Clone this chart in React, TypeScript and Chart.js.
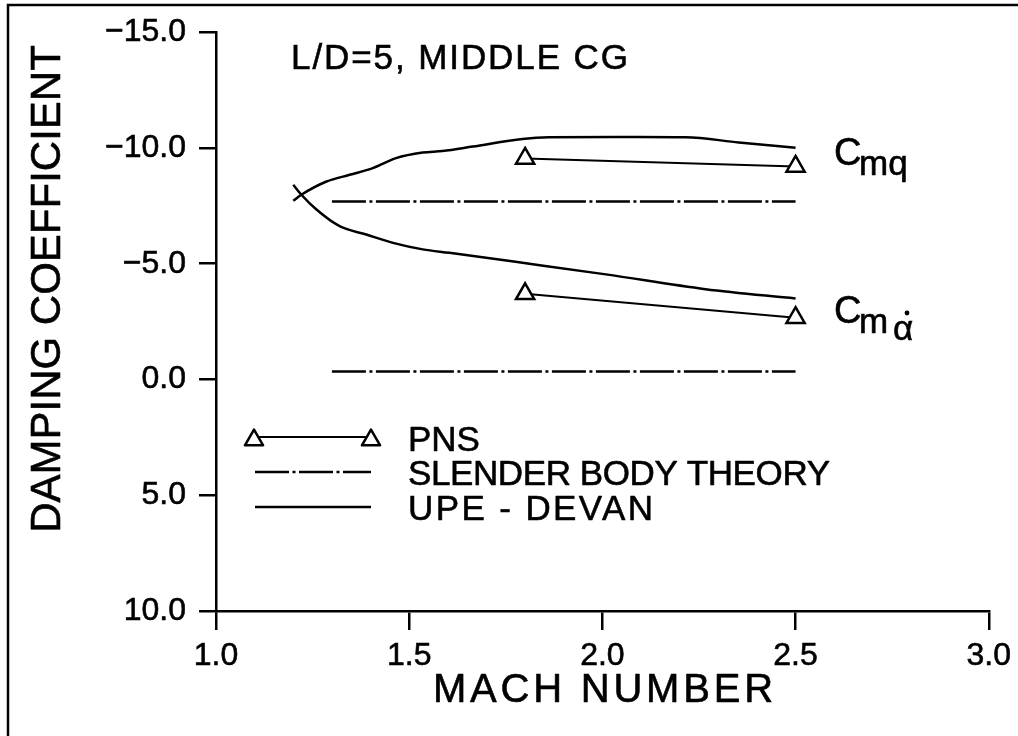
import React, { useEffect, useRef } from 'react';
import { Chart, registerables } from 'chart.js';

Chart.register(...registerables);

// ---- data ----
const xTicks = [1.0, 1.5, 2.0, 2.5, 3.0];
const yTicks = [-15, -10, -5, 0, 5, 10];

const machUpeCmq = [1.2, 1.221, 1.286, 1.346, 1.406, 1.466, 1.535, 1.586, 1.664, 1.793, 1.862, 2.095, 2.215, 2.353, 2.5];
const upeCmq = [-7.72, -7.98, -8.55, -8.84, -9.13, -9.56, -9.8, -9.87, -10.06, -10.39, -10.46, -10.47, -10.46, -10.24, -10.01];

const machUpeCma = [1.2, 1.221, 1.26, 1.32, 1.389, 1.458, 1.535, 1.604, 1.793, 2.009, 2.267, 2.5];
const upeCma = [-8.41, -7.98, -7.34, -6.62, -6.26, -5.9, -5.62, -5.47, -5.04, -4.54, -3.9, -3.5];

const machPns = [1.8, 2.5];
const pnsCmq = [-9.55, -9.2];
const pnsCma = [-3.7, -2.67];

const machSbt = [1.3, 2.5];
const sbtCmq = [-7.69, -7.69];
const sbtCma = [-0.35, -0.35];

const titleText = 'L/D=5, MIDDLE CG';
const xTitle = 'MACH NUMBER';
const yTitle = 'DAMPING COEFFICIENT';
const legendLabels = ['PNS', 'SLENDER BODY THEORY', 'UPE - DEVAN'];

const FONT = '"Liberation Sans", Arial, sans-serif';
const DASH = [34, 3.5, 3, 3.5];
const TEXT_STROKE = 0.6;

const pts = (xs: number[], ys: number[]) => xs.map((x, i) => ({ x, y: ys[i] }));

function txt(ctx: CanvasRenderingContext2D, text: string, x: number, y: number, target?: number) {
  const anyCtx = ctx as any;
  anyCtx.letterSpacing = '0px';
  if (target) {
    const natural = ctx.measureText(text).width;
    const n = text.length;
    const sp = (target - natural) / (n - 1);
    anyCtx.letterSpacing = `${sp.toFixed(2)}px`;
  }
  ctx.fillText(text, x, y);
  ctx.strokeText(text, x, y);
  anyCtx.letterSpacing = '0px';
}

function triangle(ctx: CanvasRenderingContext2D, x: number, y: number, r: number) {
  ctx.beginPath();
  for (let k = 0; k < 3; k++) {
    const a = (k * 2 * Math.PI) / 3;
    const px = x + Math.sin(a) * r;
    const py = y - Math.cos(a) * r;
    if (k === 0) ctx.moveTo(px, py);
    else ctx.lineTo(px, py);
  }
  ctx.closePath();
  ctx.fillStyle = '#fff';
  ctx.fill();
  ctx.stroke();
}

const annotations = {
  id: 'annotations',
  afterDraw(chart: any) {
    const ctx: CanvasRenderingContext2D = chart.ctx;
    ctx.save();
    ctx.strokeStyle = '#000';
    ctx.fillStyle = '#000';
    ctx.setLineDash([]);

    // outer frame
    ctx.lineWidth = 2.5;
    ctx.beginPath();
    ctx.moveTo(8, 736);
    ctx.lineTo(8, 5);
    ctx.lineTo(1018, 5);
    ctx.stroke();

    ctx.textBaseline = 'alphabetic';
    ctx.textAlign = 'left';
    ctx.lineWidth = TEXT_STROKE;
    ctx.lineJoin = 'round';

    // title
    ctx.font = `35px ${FONT}`;
    txt(ctx, titleText, 291, 69, 337);

    // x title
    ctx.font = `40px ${FONT}`;
    txt(ctx, xTitle, 433, 702, 340);

    // y title
    ctx.save();
    ctx.translate(60, 289);
    ctx.rotate(-Math.PI / 2);
    ctx.textAlign = 'center';
    ctx.font = `42px ${FONT}`;
    txt(ctx, yTitle, 0, 0);
    ctx.restore();

    // curve labels
    ctx.font = `38px ${FONT}`;
    txt(ctx, 'C', 834, 165);
    ctx.font = `35px ${FONT}`;
    txt(ctx, 'mq', 859, 175);

    ctx.font = `38px ${FONT}`;
    txt(ctx, 'C', 834, 323);
    ctx.font = `35px ${FONT}`;
    txt(ctx, 'm', 859, 333);
    txt(ctx, '\u03B1', 893, 340);
    ctx.beginPath();
    ctx.arc(907, 313, 2.4, 0, Math.PI * 2);
    ctx.fill();

    // legend
    ctx.lineWidth = 2;
    ctx.beginPath();
    ctx.moveTo(254, 437);
    ctx.lineTo(371, 437);
    ctx.stroke();
    ctx.lineWidth = 2.5;
    triangle(ctx, 254, 440, 10.5);
    triangle(ctx, 371, 440, 10.5);

    ctx.lineWidth = 2.5;
    ctx.setLineDash(DASH);
    ctx.beginPath();
    ctx.moveTo(255, 472);
    ctx.lineTo(371, 472);
    ctx.stroke();
    ctx.setLineDash([]);

    ctx.beginPath();
    ctx.moveTo(255, 507);
    ctx.lineTo(371, 507);
    ctx.stroke();

    ctx.fillStyle = '#000';
    ctx.lineWidth = TEXT_STROKE;
    ctx.font = `35px ${FONT}`;
    txt(ctx, legendLabels[0], 408, 451);
    txt(ctx, legendLabels[1], 408, 485, 422);
    txt(ctx, legendLabels[2], 408, 520, 245);

    ctx.restore();
  },
};

export default function App() {
  const ref = useRef<HTMLCanvasElement>(null);

  useEffect(() => {
    if (!ref.current) return;
    const chart = new Chart(ref.current, {
      type: 'line',
      data: {
        datasets: [
          {
            label: 'UPE Cmq',
            data: pts(machUpeCmq, upeCmq),
            borderColor: '#000',
            borderWidth: 2.5,
            pointRadius: 0,
            cubicInterpolationMode: 'monotone',
            fill: false,
          },
          {
            label: 'UPE Cma',
            data: pts(machUpeCma, upeCma),
            borderColor: '#000',
            borderWidth: 2.5,
            pointRadius: 0,
            cubicInterpolationMode: 'monotone',
            fill: false,
          },
          {
            label: 'SBT Cmq',
            data: pts(machSbt, sbtCmq),
            borderColor: '#000',
            borderWidth: 2.5,
            borderDash: DASH,
            pointRadius: 0,
            fill: false,
          },
          {
            label: 'SBT Cma',
            data: pts(machSbt, sbtCma),
            borderColor: '#000',
            borderWidth: 2.5,
            borderDash: DASH,
            pointRadius: 0,
            fill: false,
          },
          {
            label: 'PNS Cmq',
            data: pts(machPns, pnsCmq),
            borderColor: '#000',
            borderWidth: 2,
            pointStyle: 'triangle',
            pointRadius: 10.5,
            pointBorderWidth: 2.5,
            pointBackgroundColor: '#fff',
            pointBorderColor: '#000',
            fill: false,
          },
          {
            label: 'PNS Cma',
            data: pts(machPns, pnsCma),
            borderColor: '#000',
            borderWidth: 2,
            pointStyle: 'triangle',
            pointRadius: 10.5,
            pointBorderWidth: 2.5,
            pointBackgroundColor: '#fff',
            pointBorderColor: '#000',
            fill: false,
          },
        ],
      },
      options: {
        responsive: false,
        animation: false,
        devicePixelRatio: 1,
        layout: { padding: { top: 30, right: 27.5, left: 0, bottom: 0 } },
        plugins: {
          legend: { display: false },
          tooltip: { enabled: false },
          title: { display: false },
        },
        scales: {
          x: {
            type: 'linear',
            min: 1,
            max: 3,
            afterBuildTicks: (s: any) => {
              s.ticks = xTicks.map((v) => ({ value: v }));
            },
            afterFit: (s: any) => {
              s.height = 125;
            },
            ticks: {
              callback: (v: any) => Number(v).toFixed(1),
              font: { family: FONT, size: 32 },
              color: '#000',
              textStrokeColor: '#000',
              textStrokeWidth: TEXT_STROKE,
              padding: 7,
              maxRotation: 0,
              autoSkip: false,
            },
            grid: {
              drawOnChartArea: false,
              drawTicks: true,
              tickLength: 19,
              lineWidth: 2.5,
              color: '#000',
            },
            border: { display: true, color: '#000', width: 2.5 },
          },
          y: {
            type: 'linear',
            min: -15,
            max: 10,
            reverse: true,
            afterBuildTicks: (s: any) => {
              s.ticks = yTicks.map((v) => ({ value: v }));
            },
            afterFit: (s: any) => {
              s.width = 216;
            },
            ticks: {
              callback: (v: any) => (Number(v) < 0 ? '\u2212' : '') + Math.abs(Number(v)).toFixed(1),
              font: { family: FONT, size: 32 },
              color: '#000',
              textStrokeColor: '#000',
              textStrokeWidth: TEXT_STROKE,
              padding: 13,
              autoSkip: false,
            },
            grid: {
              drawOnChartArea: false,
              drawTicks: true,
              tickLength: 17,
              lineWidth: 2.5,
              color: '#000',
            },
            border: { display: true, color: '#000', width: 2.5 },
          },
        },
      },
      plugins: [annotations],
    } as any);
    return () => chart.destroy();
  }, []);

  return (
    <div style={{ position: 'fixed', left: 0, top: 0, width: 1018, height: 736, background: '#fff' }}>
      <canvas ref={ref} width={1018} height={736} style={{ display: 'block', width: 1018, height: 736 }} />
    </div>
  );
}
